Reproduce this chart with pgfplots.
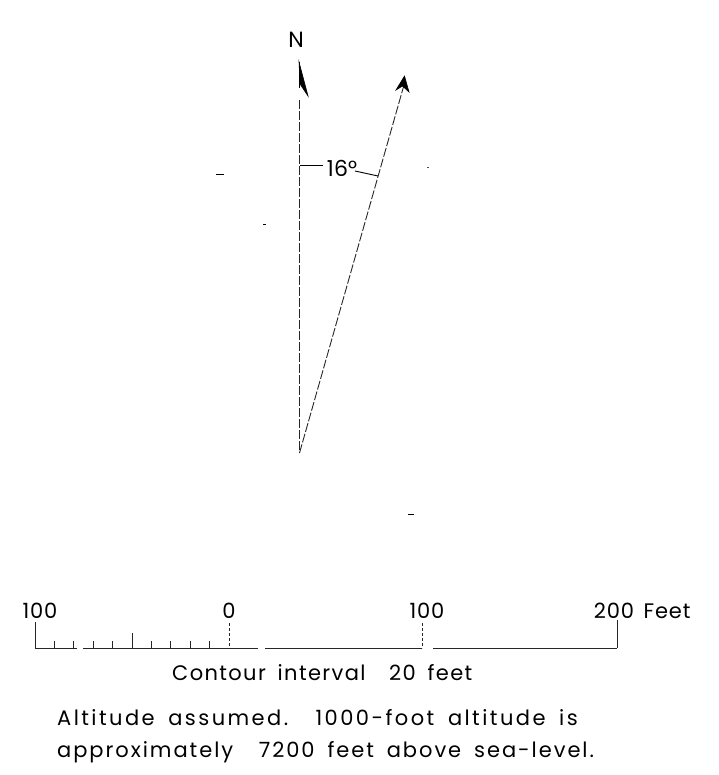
\documentclass[border=0pt]{standalone}
\usepackage{fontspec}
\setmainfont{Poppins}
\newfontfamily\lf{Poppins}[LetterSpace=4]
\newfontfamily\lfa{Poppins}[LetterSpace=6.5, WordSpace=1.7]
\newfontfamily\lfb{Poppins}[LetterSpace=11.6, WordSpace=1.7]
\newfontfamily\lfc{Poppins}[LetterSpace=9.3, WordSpace=1.7]
\usepackage{pgfplots}
\pgfplotsset{compat=1.18}
\begin{document}
\begin{tikzpicture}
\begin{axis}[
  width=718pt, height=775pt, scale only axis,
  xmin=0, xmax=718, ymin=0, ymax=775, y dir=reverse,
  hide axis, clip=false,
]
% page frame (invisible)
\addplot[draw=none] coordinates {(0,0) (718,775)};
% north line (dashed)
\addplot[black!85, line width=0.9pt, dash pattern=on 9pt off 2pt] coordinates {(299.5,100) (299.5,453)};
% north half-arrow
\addplot[black, line width=0.8pt] coordinates {(299.5,62) (299.5,88)};
\addplot[black, fill=black, line width=0.6pt] coordinates {(299,62) (308,96) (300,84)} -- cycle;
% direction line (dashed)
\addplot[black!85, line width=0.9pt, dash pattern=on 9pt off 2pt] coordinates {(299.5,453) (404,85)};
% direction arrowhead
\addplot[black, fill=black, line width=0.6pt] coordinates {(404.5,76) (396,90) (402.5,86) (409,92)} -- cycle;
% angle annotation
\addplot[black, line width=0.9pt] coordinates {(299.5,165) (323,165)};
\addplot[black, line width=0.9pt] coordinates {(355,171) (378,176)};
% stray marks
\addplot[black, line width=1pt] coordinates {(216,175) (224,175)};
\addplot[black, line width=1pt] coordinates {(263,225) (266,225)};
\addplot[black!70, line width=1pt] coordinates {(427,168) (429,168)};
\addplot[black, line width=1pt] coordinates {(408,514) (414,514)};
% scale bar
\addplot[black!85, line width=1pt] coordinates {(35,648) (77,648)};
\addplot[black!85, line width=1pt] coordinates {(83,648) (258,648)};
\addplot[black!85, line width=1pt] coordinates {(265,648) (422,648)};
\addplot[black!85, line width=1pt] coordinates {(433,648) (617,648)};
% end / major ticks
\addplot[black!85, line width=1pt] coordinates {(35,622) (35,648)};
\addplot[black!85, line width=1pt, dash pattern=on 3pt off 2pt] coordinates {(229,623) (229,648)};
\addplot[black!85, line width=1pt, dash pattern=on 3pt off 2pt] coordinates {(422.5,623) (422.5,648)};
\addplot[black!85, line width=1pt] coordinates {(617,620) (617,648)};
% 50-ft tick
\addplot[black!85, line width=1pt] coordinates {(132,633) (132,648)};
% 10-ft ticks
\addplot[black!85, line width=1pt] coordinates {(54.4,641) (54.4,648)};
\addplot[black!85, line width=1pt] coordinates {(73.8,641) (73.8,648)};
\addplot[black!85, line width=1pt] coordinates {(93.2,641) (93.2,648)};
\addplot[black!85, line width=1pt] coordinates {(112.6,641) (112.6,648)};
\addplot[black!85, line width=1pt] coordinates {(151.4,641) (151.4,648)};
\addplot[black!85, line width=1pt] coordinates {(170.8,641) (170.8,648)};
\addplot[black!85, line width=1pt] coordinates {(190.2,641) (190.2,648)};
\addplot[black!85, line width=1pt] coordinates {(209.6,641) (209.6,648)};
% texts
\node[anchor=base, inner sep=0pt, font=\fontsize{22}{24}\selectfont] at (axis cs:296,48) {N};
\node[anchor=base, inner sep=0pt, font=\fontsize{22}{24}\selectfont] at (axis cs:342,177) {16°};
\node[anchor=base, inner sep=0pt, font=\fontsize{21}{24}\lf] at (axis cs:40,618) {100};
\node[anchor=base, inner sep=0pt, font=\fontsize{21}{24}\lf] at (axis cs:229,618) {0};
\node[anchor=base, inner sep=0pt, font=\fontsize{21}{24}\lf] at (axis cs:427,618) {100};
\node[anchor=base, inner sep=0pt, font=\fontsize{21}{24}\lf] at (axis cs:614,618) {200};
\node[anchor=base, inner sep=0pt, font=\fontsize{21}{24}\lf] at (axis cs:667,618) {Feet};
\node[anchor=base west, inner sep=0pt, font=\fontsize{21}{24}\lfa] at (axis cs:172,680) {Contour interval\ \ 20 feet};
\node[anchor=base west, inner sep=0pt, font=\fontsize{21}{24}\lfb] at (axis cs:57,725) {Altitude assumed.\ \ 1000-foot altitude is};
\node[anchor=base west, inner sep=0pt, font=\fontsize{21}{24}\lfc] at (axis cs:57,757) {approximately\ \ 7200 feet above sea-level.};
\end{axis}
\end{tikzpicture}
\end{document}
